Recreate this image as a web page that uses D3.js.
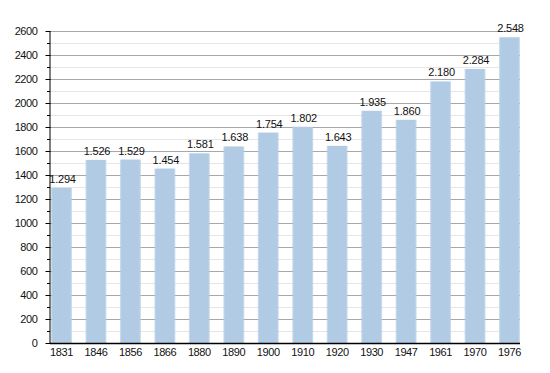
<!DOCTYPE html>
<html><head><meta charset="utf-8">
<script src="https://cdn.jsdelivr.net/npm/d3@7"></script>
<style>
html,body{margin:0;padding:0;background:#fff;}
svg text{font-family:"Liberation Sans",Arial,Helvetica,sans-serif;font-size:11px;fill:#111;}
</style></head>
<body><svg id="c" width="550" height="373"></svg>
<script>
const years = ["1831","1846","1856","1866","1880","1890","1900","1910","1920","1930","1947","1961","1970","1976"];
const population = [1294,1526,1529,1454,1581,1638,1754,1802,1643,1935,1860,2180,2284,2548];
const valueLabels = ["1.294","1.526","1.529","1.454","1.581","1.638","1.754","1.802","1.643","1.935","1.860","2.180","2.284","2.548"];
const yTicks = [0,200,400,600,800,1000,1200,1400,1600,1800,2000,2200,2400,2600];
const yMinorTicks = d3.range(100,2600,200);

const svg = d3.select("#c");
const x0 = 50, x1 = 520, yTop = 31, yBot = 343;
const y = d3.scaleLinear().domain([0,2600]).range([yBot,yTop]);
const x = d3.scaleBand().domain(years).range([51, 520]).paddingInner(0.39).paddingOuter(0);

const defs = svg.append("defs");
const g = defs.append("linearGradient").attr("id","bg").attr("x1","0").attr("x2","1").attr("y1","0").attr("y2","0");
[[0,0.55],[0.08,1],[0.92,1],[1,0.55]].forEach(([o,a])=>g.append("stop").attr("offset",o).attr("stop-color","#b2cbe5").attr("stop-opacity",a));

// minor gridlines
svg.append("g").selectAll("line").data(yMinorTicks).join("line")
  .attr("x1",x0).attr("x2",x1).attr("y1",d=>y(d)+0.5).attr("y2",d=>y(d)+0.5)
  .attr("stroke","#e6e6e6").attr("stroke-width",1);
// major gridlines
svg.append("g").selectAll("line").data(yTicks.filter(d=>d>0)).join("line")
  .attr("x1",x0).attr("x2",x1).attr("y1",d=>y(d)+0.5).attr("y2",d=>y(d)+0.5)
  .attr("stroke","#a8a8a8").attr("stroke-width",1);

// bars
svg.append("g").selectAll("rect").data(population).join("rect")
  .attr("x",(d,i)=>x(years[i])).attr("width",x.bandwidth())
  .attr("y",d=>y(d)).attr("height",d=>yBot-y(d))
  .attr("fill","url(#bg)");

// value labels
svg.append("g").selectAll("text").data(population).join("text")
  .attr("x",(d,i)=>x(years[i])+x.bandwidth()/2+1).attr("y",d=>y(d)-5)
  .attr("text-anchor","middle").style("letter-spacing","-0.2px")
  .text((d,i)=>valueLabels[i]);

// y axis
const ya = svg.append("g").attr("transform",`translate(${x0+0.5},0)`)
  .call(d3.axisLeft(y).tickValues(yTicks).tickSize(5).tickPadding(8).tickFormat(d3.format("d")));
ya.select(".domain").attr("stroke","#000").attr("d",`M-0.5,${yTop}V${yBot}H0`);
ya.selectAll(".tick line").attr("stroke","#000");
ya.selectAll("text").attr("font-family",null).attr("font-size",null).style("letter-spacing","-0.4px").attr("fill","#111");
svg.append("g").selectAll("line").data(yMinorTicks).join("line")
  .attr("x1",x0-3).attr("x2",x0).attr("y1",d=>y(d)+0.5).attr("y2",d=>y(d)+0.5).attr("stroke","#000");

// x axis
svg.append("line").attr("x1",x0).attr("x2",x1).attr("y1",yBot+0.5).attr("y2",yBot+0.5).attr("stroke","#000").attr("stroke-width",1.5);
svg.append("g").selectAll("text").data(years).join("text")
  .attr("x",d=>x(d)+x.bandwidth()/2).attr("y",yBot+12.5)
  .attr("text-anchor","middle").style("letter-spacing","-0.4px").text(d=>d);
</script></body></html>
